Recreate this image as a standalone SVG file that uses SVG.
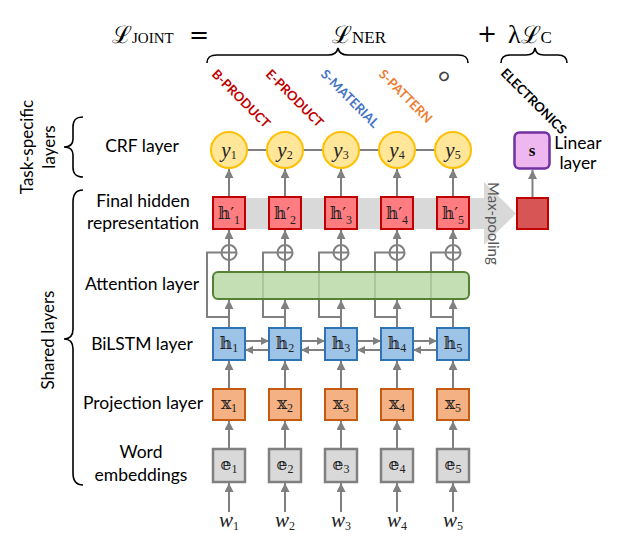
<svg xmlns="http://www.w3.org/2000/svg" width="623" height="545" viewBox="0 0 623 545">
<defs>
<marker id="ah" viewBox="0 0 10 10" refX="10" refY="5" markerWidth="9" markerHeight="9" markerUnits="userSpaceOnUse" orient="auto"><path d="M0,0 L10,5 L0,10 z" fill="#808080"/></marker>
<marker id="ahs" viewBox="0 0 10 10" refX="10" refY="5" markerWidth="8" markerHeight="8" markerUnits="userSpaceOnUse" orient="auto"><path d="M0,0 L10,5 L0,10 z" fill="#808080"/></marker>
</defs>
<style>
.lbl{font-family:Lato,"Liberation Sans",sans-serif;font-size:17.5px;fill:#000;text-anchor:middle}
.rot{font-family:Lato,"Liberation Sans",sans-serif;font-size:17px;fill:#000;text-anchor:middle}
.tag{font-family:Lato,"Liberation Sans",sans-serif;font-size:13px;font-weight:bold}
.math{font-family:"DejaVu Serif","Liberation Serif",serif;font-size:17px;fill:#222;text-anchor:middle}
.sub{font-family:"Liberation Serif",serif;font-size:12px;font-style:normal}
.yl{font-family:"Liberation Serif",serif;font-size:21px;font-style:italic;fill:#222;text-anchor:middle}
.f{font-family:"DejaVu Serif","Liberation Serif",serif;fill:#000}
.hp{fill:#ff7c80;stroke:#c00000;stroke-width:2}
.hb{fill:#9dc3e6;stroke:#2e75b6;stroke-width:2}
.xb{fill:#f4b183;stroke:#c55a11;stroke-width:2}
.eb{fill:#d9d9d9;stroke:#808080;stroke-width:2.5}
.cr{fill:#ffe699;stroke:#ffc000;stroke-width:2}
.ln{stroke:#808080;stroke-width:2;fill:none}
.ar{stroke:#808080;stroke-width:2;fill:none;marker-end:url(#ah)}
.ars{stroke:#808080;stroke-width:2;fill:none;marker-end:url(#ahs)}
.br{stroke:#000;stroke-width:1.6;fill:none}
</style>
<rect width="623" height="545" fill="#fff"/>

<!-- formula -->
<g id="formula">
<text class="f" x="112" y="43" font-size="24">ℒ<tspan font-family="'Liberation Serif',serif" font-size="15">JOINT</tspan></text>
<text class="f" x="199" y="43" font-size="24" text-anchor="middle">=</text>
<text class="f" x="332" y="43" font-size="24">ℒ<tspan font-family="'Liberation Serif',serif" font-size="17">NER</tspan></text>
<text class="f" x="487" y="42" font-size="24" text-anchor="middle">+</text>
<text class="f" x="508" y="43" font-size="24"><tspan font-family="'Liberation Serif',serif" font-size="26">λ</tspan>ℒ<tspan font-family="'Liberation Serif',serif" font-size="17">C</tspan></text>
<path class="br" d="M207,63 C207,57 210,55 217,55 L328,55 C334,55 337,53 338,48 C339,53 342,55 348,55 L458,55 C465,55 468,57 468,63"/>
<path class="br" d="M501,63 C501,57 504,55 510,55 L526,55 C532,55 534,53 535,48 C536,53 538,55 544,55 L558,55 C564,55 567,57 567,63"/>
</g>

<!-- tags -->
<g id="tags">
<text class="tag" fill="#c00000" transform="translate(211,75) rotate(45)">B-PRODUCT</text>
<text class="tag" fill="#c00000" transform="translate(265,75) rotate(45)">E-PRODUCT</text>
<text class="tag" fill="#4472c4" transform="translate(320,75) rotate(45)">S-MATERIAL</text>
<text class="tag" fill="#ed7d31" transform="translate(378,75) rotate(45)">S-PATTERN</text>
<text class="tag" fill="#404040" transform="translate(437,76) rotate(45)">O</text>
<text class="tag" fill="#000" font-size="14" transform="translate(500,74) rotate(45)">ELECTRONICS</text>
</g>

<!-- left labels -->
<g id="left-labels">
<text class="rot" transform="translate(33,147) rotate(-90)">Task-specific</text>
<text class="rot" transform="translate(55,147) rotate(-90)">layers</text>
<text class="rot" transform="translate(54,340) rotate(-90)">Shared layers</text>
<path class="br" d="M83,117 C75,117 73,121 73,127 L73,139 C73,145 70,147 64,147 C70,147 73,149 73,155 L73,167 C73,173 75,177 83,177"/>
<path class="br" d="M83,190 C75,190 73,195 73,202 L73,329 C73,336 70,339 64,339 C70,339 73,342 73,349 L73,473 C73,480 75,485 83,485"/>
<text class="lbl" x="142" y="152">CRF layer</text>
<text class="lbl" x="143" y="207">Final hidden</text>
<text class="lbl" x="143" y="229">representation</text>
<text class="lbl" x="142" y="290">Attention layer</text>
<text class="lbl" x="142" y="350">BiLSTM layer</text>
<text class="lbl" x="143" y="409">Projection layer</text>
<text class="lbl" x="141" y="458">Word</text>
<text class="lbl" x="141" y="481">embeddings</text>
</g>

<!-- max pooling band -->
<g id="maxpool">
<path d="M213,198 H484 V182 L516,213.5 L484,245 V229 H213 Z" fill="#d9d9d9"/>
<text font-family="Lato,'Liberation Sans',sans-serif" font-size="15" fill="#595959" transform="translate(488,182) rotate(90)">Max-pooling</text>
</g>

<!-- connectors -->
<g id="connectors">
<line class="ln" x1="247" y1="150" x2="267" y2="150"/>
<line class="ln" x1="303" y1="150" x2="323" y2="150"/>
<line class="ln" x1="359" y1="150" x2="379" y2="150"/>
<line class="ln" x1="415" y1="150" x2="435" y2="150"/>
<line class="ars" x1="245" y1="341" x2="269" y2="341"/><line class="ars" x1="269" y1="350" x2="245" y2="350"/>
<line class="ars" x1="301" y1="341" x2="325" y2="341"/><line class="ars" x1="325" y1="350" x2="301" y2="350"/>
<line class="ars" x1="357" y1="341" x2="381" y2="341"/><line class="ars" x1="381" y1="350" x2="357" y2="350"/>
<line class="ars" x1="413" y1="341" x2="437" y2="341"/><line class="ars" x1="437" y1="350" x2="413" y2="350"/>
<g id="col1">
<line class="ar" x1="229" y1="512" x2="229" y2="483"/>
<line class="ar" x1="229" y1="449" x2="229" y2="421"/>
<line class="ar" x1="229" y1="389" x2="229" y2="361"/>
<line class="ar" x1="229" y1="328" x2="229" y2="300"/>
<path class="ln" d="M229,317 H207 V252.5 H221.5"/>
<line class="ln" x1="229" y1="272" x2="229" y2="260"/>
<line class="ar" x1="229" y1="245" x2="229" y2="230"/>
<line class="ar" x1="229" y1="197" x2="229" y2="169"/>
</g>
<g id="col2">
<line class="ar" x1="285" y1="512" x2="285" y2="483"/>
<line class="ar" x1="285" y1="449" x2="285" y2="421"/>
<line class="ar" x1="285" y1="389" x2="285" y2="361"/>
<line class="ar" x1="285" y1="328" x2="285" y2="300"/>
<path class="ln" d="M285,317 H263 V252.5 H277.5"/>
<line class="ln" x1="285" y1="272" x2="285" y2="260"/>
<line class="ar" x1="285" y1="245" x2="285" y2="230"/>
<line class="ar" x1="285" y1="197" x2="285" y2="169"/>
</g>
<g id="col3">
<line class="ar" x1="341" y1="512" x2="341" y2="483"/>
<line class="ar" x1="341" y1="449" x2="341" y2="421"/>
<line class="ar" x1="341" y1="389" x2="341" y2="361"/>
<line class="ar" x1="341" y1="328" x2="341" y2="300"/>
<path class="ln" d="M341,317 H319 V252.5 H333.5"/>
<line class="ln" x1="341" y1="272" x2="341" y2="260"/>
<line class="ar" x1="341" y1="245" x2="341" y2="230"/>
<line class="ar" x1="341" y1="197" x2="341" y2="169"/>
</g>
<g id="col4">
<line class="ar" x1="397" y1="512" x2="397" y2="483"/>
<line class="ar" x1="397" y1="449" x2="397" y2="421"/>
<line class="ar" x1="397" y1="389" x2="397" y2="361"/>
<line class="ar" x1="397" y1="328" x2="397" y2="300"/>
<path class="ln" d="M397,317 H375 V252.5 H389.5"/>
<line class="ln" x1="397" y1="272" x2="397" y2="260"/>
<line class="ar" x1="397" y1="245" x2="397" y2="230"/>
<line class="ar" x1="397" y1="197" x2="397" y2="169"/>
</g>
<g id="col5">
<line class="ar" x1="453" y1="512" x2="453" y2="483"/>
<line class="ar" x1="453" y1="449" x2="453" y2="421"/>
<line class="ar" x1="453" y1="389" x2="453" y2="361"/>
<line class="ar" x1="453" y1="328" x2="453" y2="300"/>
<path class="ln" d="M453,317 H431 V252.5 H445.5"/>
<line class="ln" x1="453" y1="272" x2="453" y2="260"/>
<line class="ar" x1="453" y1="245" x2="453" y2="230"/>
<line class="ar" x1="453" y1="197" x2="453" y2="169"/>
</g>
<line class="ar" x1="532.5" y1="198" x2="532.5" y2="170"/>
<g id="plus">
<g class="ln"><circle cx="229" cy="252.5" r="7.5"/><path d="M221.5,252.5 H236.5 M229,245 V260"/></g>
<g class="ln"><circle cx="285" cy="252.5" r="7.5"/><path d="M277.5,252.5 H292.5 M285,245 V260"/></g>
<g class="ln"><circle cx="341" cy="252.5" r="7.5"/><path d="M333.5,252.5 H348.5 M341,245 V260"/></g>
<g class="ln"><circle cx="397" cy="252.5" r="7.5"/><path d="M389.5,252.5 H404.5 M397,245 V260"/></g>
<g class="ln"><circle cx="453" cy="252.5" r="7.5"/><path d="M445.5,252.5 H460.5 M453,245 V260"/></g>
</g>
</g>

<!-- attention -->
<g id="attention">
<rect x="213" y="272" width="256" height="27" rx="5" fill="#b5d7a0" fill-opacity="0.8" stroke="#548235" stroke-width="2"/>
</g>

<!-- CRF nodes -->
<g id="y1"><circle class="cr" cx="229" cy="150" r="18"/><text class="yl" x="229" y="157">y<tspan class="sub" font-size="14" dy="2">1</tspan></text></g>
<g id="y2"><circle class="cr" cx="285" cy="150" r="18"/><text class="yl" x="285" y="157">y<tspan class="sub" font-size="14" dy="2">2</tspan></text></g>
<g id="y3"><circle class="cr" cx="341" cy="150" r="18"/><text class="yl" x="341" y="157">y<tspan class="sub" font-size="14" dy="2">3</tspan></text></g>
<g id="y4"><circle class="cr" cx="397" cy="150" r="18"/><text class="yl" x="397" y="157">y<tspan class="sub" font-size="14" dy="2">4</tspan></text></g>
<g id="y5"><circle class="cr" cx="453" cy="150" r="18"/><text class="yl" x="453" y="157">y<tspan class="sub" font-size="14" dy="2">5</tspan></text></g>

<!-- final hidden -->
<g id="hp1"><rect class="hp" x="213" y="197" width="32" height="32"/><text class="math" x="229" y="219">𝕙′<tspan class="sub" dy="5">1</tspan></text></g>
<g id="hp2"><rect class="hp" x="269" y="197" width="32" height="32"/><text class="math" x="285" y="219">𝕙′<tspan class="sub" dy="5">2</tspan></text></g>
<g id="hp3"><rect class="hp" x="325" y="197" width="32" height="32"/><text class="math" x="341" y="219">𝕙′<tspan class="sub" dy="5">3</tspan></text></g>
<g id="hp4"><rect class="hp" x="381" y="197" width="32" height="32"/><text class="math" x="397" y="219">𝕙′<tspan class="sub" dy="5">4</tspan></text></g>
<g id="hp5"><rect class="hp" x="437" y="197" width="32" height="32"/><text class="math" x="453" y="219">𝕙′<tspan class="sub" dy="5">5</tspan></text></g>

<!-- pooled + linear -->
<g id="pooled"><rect x="517" y="198" width="31" height="31" fill="#d75555" stroke="#c00000" stroke-width="2"/></g>
<g id="linear"><rect x="514.5" y="132.5" width="35" height="36" rx="5" fill="#efb7ef" stroke="#7030a0" stroke-width="2.5"/><text x="532" y="156" font-family="'Liberation Serif',serif" font-weight="bold" font-size="17" text-anchor="middle">s</text>
<text class="lbl" x="578" y="149">Linear</text><text class="lbl" x="578" y="169">layer</text></g>

<!-- BiLSTM -->
<g id="h1"><rect class="hb" x="213" y="328" width="32" height="32"/><text class="math" x="229" y="349">𝕙<tspan class="sub" dy="3">1</tspan></text></g>
<g id="h2"><rect class="hb" x="269" y="328" width="32" height="32"/><text class="math" x="285" y="349">𝕙<tspan class="sub" dy="3">2</tspan></text></g>
<g id="h3"><rect class="hb" x="325" y="328" width="32" height="32"/><text class="math" x="341" y="349">𝕙<tspan class="sub" dy="3">3</tspan></text></g>
<g id="h4"><rect class="hb" x="381" y="328" width="32" height="32"/><text class="math" x="397" y="349">𝕙<tspan class="sub" dy="3">4</tspan></text></g>
<g id="h5"><rect class="hb" x="437" y="328" width="32" height="32"/><text class="math" x="453" y="349">𝕙<tspan class="sub" dy="3">5</tspan></text></g>

<!-- projection -->
<g id="x1"><rect class="xb" x="213" y="389" width="32" height="31"/><text class="math" x="229" y="409">𝕩<tspan class="sub" dy="3">1</tspan></text></g>
<g id="x2"><rect class="xb" x="269" y="389" width="32" height="31"/><text class="math" x="285" y="409">𝕩<tspan class="sub" dy="3">2</tspan></text></g>
<g id="x3"><rect class="xb" x="325" y="389" width="32" height="31"/><text class="math" x="341" y="409">𝕩<tspan class="sub" dy="3">3</tspan></text></g>
<g id="x4"><rect class="xb" x="381" y="389" width="32" height="31"/><text class="math" x="397" y="409">𝕩<tspan class="sub" dy="3">4</tspan></text></g>
<g id="x5"><rect class="xb" x="437" y="389" width="32" height="31"/><text class="math" x="453" y="409">𝕩<tspan class="sub" dy="3">5</tspan></text></g>

<!-- embeddings -->
<g id="e1"><rect class="eb" x="213" y="449" width="32" height="33"/><text class="math" x="229" y="470">𝕖<tspan class="sub" dy="3">1</tspan></text></g>
<g id="e2"><rect class="eb" x="269" y="449" width="32" height="33"/><text class="math" x="285" y="470">𝕖<tspan class="sub" dy="3">2</tspan></text></g>
<g id="e3"><rect class="eb" x="325" y="449" width="32" height="33"/><text class="math" x="341" y="470">𝕖<tspan class="sub" dy="3">3</tspan></text></g>
<g id="e4"><rect class="eb" x="381" y="449" width="32" height="33"/><text class="math" x="397" y="470">𝕖<tspan class="sub" dy="3">4</tspan></text></g>
<g id="e5"><rect class="eb" x="437" y="449" width="32" height="33"/><text class="math" x="453" y="470">𝕖<tspan class="sub" dy="3">5</tspan></text></g>

<!-- words -->
<g id="w1"><text class="yl" x="229" y="527">w<tspan class="sub" font-size="14" dy="3">1</tspan></text></g>
<g id="w2"><text class="yl" x="285" y="527">w<tspan class="sub" font-size="14" dy="3">2</tspan></text></g>
<g id="w3"><text class="yl" x="341" y="527">w<tspan class="sub" font-size="14" dy="3">3</tspan></text></g>
<g id="w4"><text class="yl" x="397" y="527">w<tspan class="sub" font-size="14" dy="3">4</tspan></text></g>
<g id="w5"><text class="yl" x="453" y="527">w<tspan class="sub" font-size="14" dy="3">5</tspan></text></g>
</svg>
